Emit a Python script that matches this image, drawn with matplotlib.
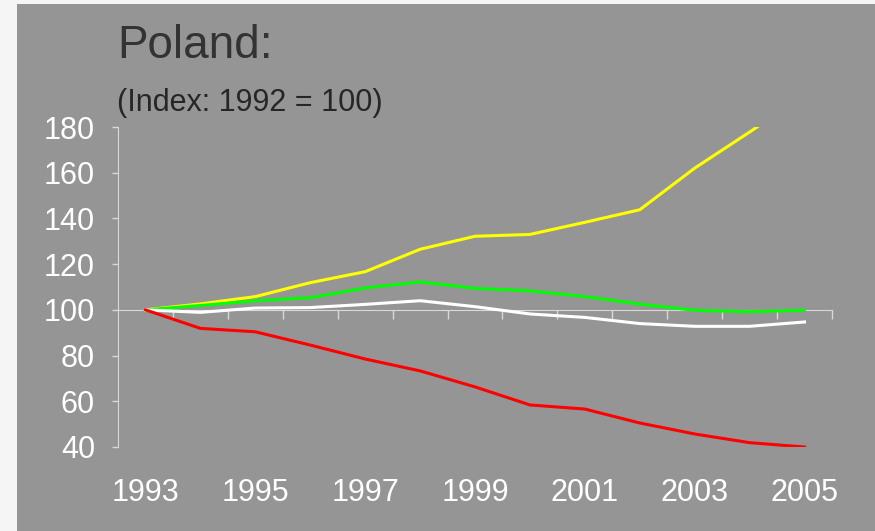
import numpy as np
import matplotlib.pyplot as plt
from matplotlib.patches import Rectangle

# Index series for Poland, 1992 = 100
years = np.arange(1993, 2006)
yellow_series = [100, 102.6, 105.8, 111.9, 116.7, 126.5, 132.2, 133.0, 138.3, 143.8, 162.0, 177.8, 194.0]
green_series = [100, 101.9, 104.0, 105.3, 109.6, 112.2, 109.4, 108.3, 105.8, 102.5, 99.8, 99.2, 99.8]
white_series = [100, 98.9, 100.8, 101.0, 102.4, 104.0, 101.4, 98.2, 96.7, 94.0, 92.8, 92.8, 94.7]
red_series = [100, 91.9, 90.4, 84.6, 78.5, 73.3, 66.3, 58.4, 56.6, 50.5, 45.7, 41.9, 40.0]

series_colors = ["#ffff00", "#00ff00", "#ffffff", "#ff0000"]
label_years = [1993, 1995, 1997, 1999, 2001, 2003, 2005]
y_ticks = [40, 60, 80, 100, 120, 140, 160, 180]

title_text = "Poland:"
subtitle_text = "(Index: 1992 = 100)"

plt.rcParams['font.family'] = ['Liberation Sans', 'DejaVu Sans']

bg_gray = "#959595"
axis_gray = "#d9d9d9"

fig = plt.figure(figsize=(8.75, 5.31), dpi=100)
fig.patch.set_facecolor("#f5f5f5")
# gray slide panel
fig.patches.append(Rectangle((17 / 875, 0), 1, 1 - 4 / 531, transform=fig.transFigure,
                             facecolor=bg_gray, edgecolor="none", zorder=0))

ax = fig.add_axes([118 / 875, 1 - 447 / 531, (832 - 118) / 875, (447 - 127) / 531])
ax.set_facecolor("none")
ax.set_zorder(2)

for values, color in zip([yellow_series, green_series, white_series, red_series], series_colors):
    ax.plot(years, values, color=color, linewidth=2.2, solid_joinstyle="round", zorder=3)

ax.set_xlim(1992.5, 2005.5)
ax.set_ylim(40, 180)

# category axis crosses at 100
for side in ["top", "right"]:
    ax.spines[side].set_visible(False)
ax.spines["bottom"].set_position(("data", 100))
ax.spines["bottom"].set_color(axis_gray)
ax.spines["bottom"].set_zorder(2)
ax.spines["left"].set_color(axis_gray)

ax.set_xticks(np.arange(1993.5, 2006, 1.0))
ax.set_xticklabels([])
ax.tick_params(axis="x", which="major", direction="out", length=6.5, width=1, color=axis_gray)
ax.set_xticks(label_years, minor=True)
ax.set_xticklabels([str(y) for y in label_years], minor=True)
ax.tick_params(axis="x", which="minor", length=0, pad=121, labelsize=22, labelcolor="white")

ax.set_yticks(y_ticks)
ax.tick_params(axis="y", direction="out", length=4.5, width=1, color=axis_gray,
               pad=12, labelsize=22, labelcolor="white")

fig.text(117 / 875, 1 - 46 / 531, title_text, fontsize=33, color="#333333",
         ha="left", va="center")
fig.text(117 / 875, 1 - 103 / 531, subtitle_text, fontsize=22, color="#262626",
         ha="left", va="center")

fig.savefig("out.png", dpi=100, facecolor=fig.get_facecolor())
